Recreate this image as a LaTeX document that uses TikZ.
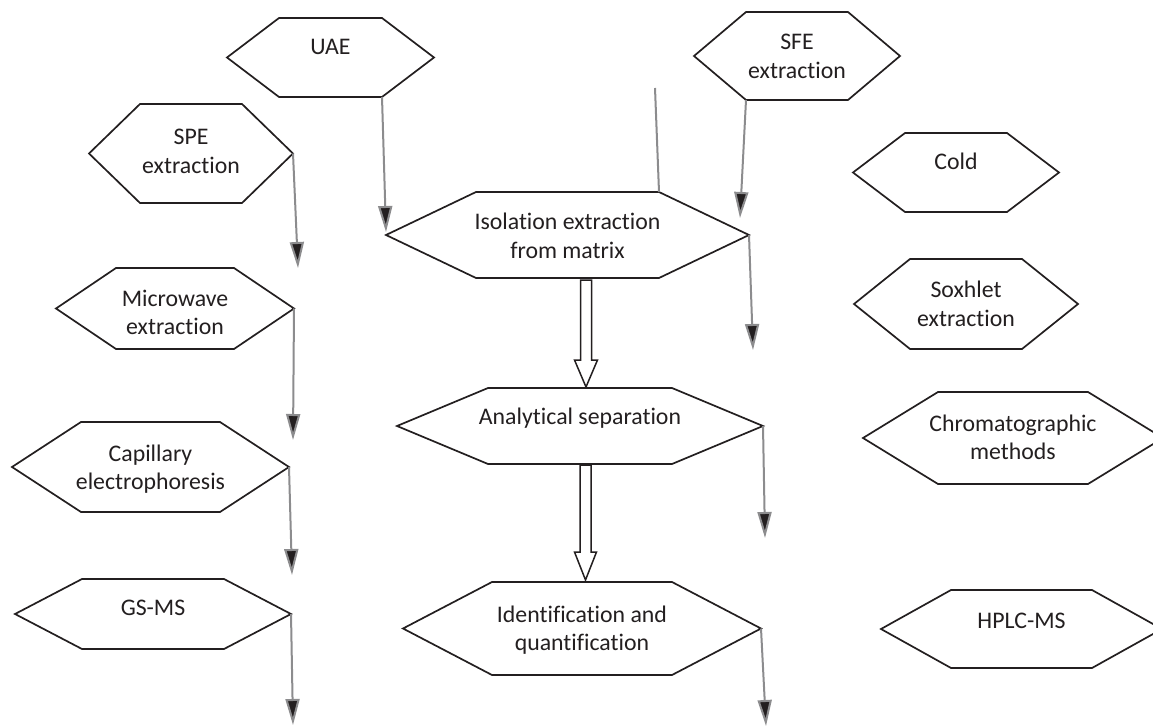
\documentclass[tikz,border=0pt]{standalone}
\usepackage{fontspec}
\setmainfont{Carlito}[Ligatures=NoCommon]
\usetikzlibrary{arrows.meta}
\definecolor{ink}{RGB}{35,31,32}
\definecolor{conn}{RGB}{140,140,142}
\tikzset{
  hexline/.style={draw=ink, line width=1.7pt, line join=miter, fill=white},
  hextext/.style={anchor=base, inner sep=0pt, text=ink, font=\fontsize{23.8}{28.5}\selectfont},
  conn/.style={draw=conn, line width=2pt, -{Triangle[length=26pt,width=14pt,fill=ink,color=conn]}},
  connplain/.style={draw=conn, line width=2pt},
  blockarr/.style={draw=ink, line width=1.5pt, fill=white, line join=miter}
}
\newcommand\hexshape[8]{%
  \path ({#2},{-(#4+#5)/2}) coordinate (#1-l)
        ({#2+#6},{-#4}) coordinate (#1-tl)
        ({#3-#6},{-#4}) coordinate (#1-tr)
        ({#3},{-(#4+#5)/2}) coordinate (#1-r)
        ({#3-#6},{-#5}) coordinate (#1-br)
        ({#2+#6},{-#5}) coordinate (#1-bl);
  \draw[hexline] (#1-l) -- (#1-tl) -- (#1-tr) -- (#1-r) -- (#1-br) -- (#1-bl) -- cycle;
  \node[hextext] (#1) at ({(#2+#3)/2},{-#7}) {\begin{tabular}[t]{@{}c@{}}#8\end{tabular}};
}
\begin{document}
\begin{tikzpicture}[x=1pt,y=1pt]
\useasboundingbox (0,0) rectangle (1153,-727);
\clip (0,0) rectangle (1153,-727);

\hexshape{uae}{227}{434}{18}{97}{52}{55}{UAE}
\hexshape{sfe}{694}{900}{12}{100}{52}{50}{SFE\\extraction}
\hexshape{iso}{386}{749}{192}{278}{90}{230}{Isolation extraction\\from matrix}
\hexshape{spe}{89}{293}{104}{203}{51}{145}{SPE\\extraction}
\hexshape{mw}{56}{294}{268}{349}{60}{306}{Microwave\\extraction}
\hexshape{cap}{12}{289}{422}{512}{69}{461}{Capillary\\electrophoresis}
\hexshape{gs}{15}{291}{579}{649}{67}{615}{GS-MS}
\hexshape{ana}{397}{763}{388}{464}{91}{424}{Analytical separation}
\hexshape{idq}{403}{761}{582}{675}{89}{622}{Identification and\\quantification}
\hexshape{cold}{853}{1059}{133}{212}{52}{170}{Cold}
\hexshape{sox}{854}{1078}{259}{349}{56}{298}{Soxhlet\\extraction}
\hexshape{chr}{863}{1163}{392}{484}{75}{431}{Chromatographic\\methods}
\hexshape{hplc}{881}{1162}{590}{668}{70}{628}{HPLC-MS}

% free ends of connectors
\coordinate (e-uae) at (386,-232);
\coordinate (e-sfe) at (740,-218);
\coordinate (e-top) at (655,-88);
\coordinate (e-iso) at (753,-350);
\coordinate (e-spe) at (298,-268);
\coordinate (e-mw) at (293,-440);
\coordinate (e-cap) at (292,-575);
\coordinate (e-gs) at (293,-725);
\coordinate (e-ana) at (765,-538);
\coordinate (e-idq) at (766,-726);

\draw[conn] (uae-br) -- (e-uae);
\draw[conn] (sfe-bl) -- (e-sfe);
\draw[connplain] (iso-tr) -- (e-top);
\draw[conn] (iso-r) -- (e-iso);
\draw[conn] (spe-r) -- (e-spe);
\draw[conn] (mw-r) -- (e-mw);
\draw[conn] (cap-r) -- (e-cap);
\draw[conn] (gs-r) -- (e-gs);
\draw[conn] (ana-r) -- (e-ana);
\draw[conn] (idq-r) -- (e-idq);

% hollow block arrows
\coordinate (b1) at (586,-280);
\coordinate (b2) at (585.5,-465);
\draw[blockarr] (b1) ++(-5.5,0) -- ++(0,-80) -- ++(-6,0) -- ++(11.5,-27) -- ++(11.5,27) -- ++(-6,0) -- ++(0,80) -- cycle;
\draw[blockarr] (b2) ++(-5.5,0) -- ++(0,-87) -- ++(-5.5,0) -- ++(11,-28) -- ++(11,28) -- ++(-5.5,0) -- ++(0,87) -- cycle;
\end{tikzpicture}
\end{document}
